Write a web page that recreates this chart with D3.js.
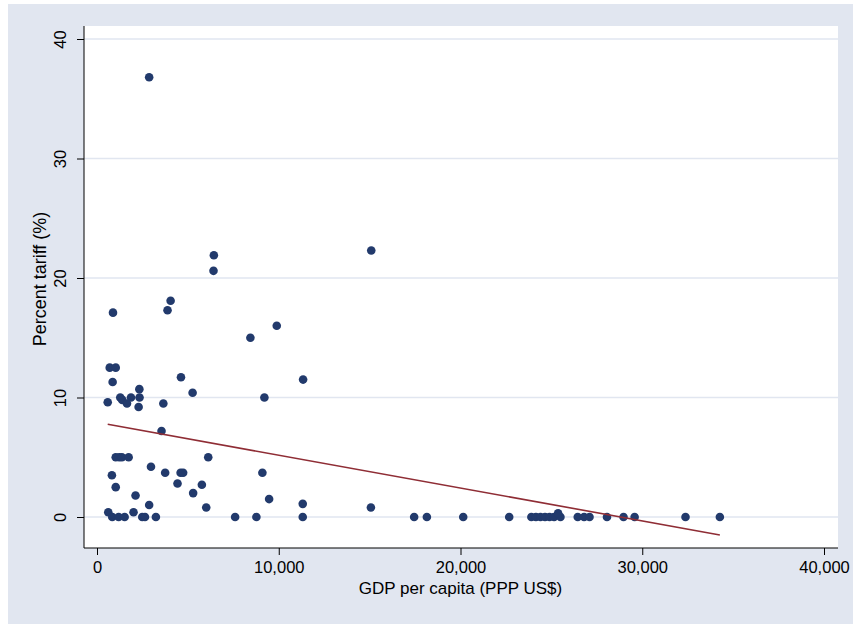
<!DOCTYPE html>
<html>
<head>
<meta charset="utf-8">
<script src="https://cdn.jsdelivr.net/npm/d3@7"></script>
<style>
  body { margin: 0; background: #ffffff; }
  text { font-family: "Liberation Sans", Arial, sans-serif; fill: #000; }
</style>
</head>
<body>
<script>

// GDP per capita (PPP US$) of each country
let gdpPerCapita = [
    2870, 15090, 6430, 6410, 4050, 3880, 880, 9890, 8440, 700,
    1030, 4620, 11340, 860, 2330, 5260, 2340, 1280, 1390, 1870,
    9210, 1650, 590, 2290, 3650, 3550, 1030, 1220, 1370, 1740,
    6120, 2970, 3750, 4600, 4740, 9100, 820, 4430, 5770, 1030,
    5290, 2120, 9470, 6010, 2870, 11320, 15070, 2010, 620,
    840, 1190, 1520, 2490, 2640, 3240, 7600, 8770, 11320, 17450,
    18150, 20150, 22680, 23900, 24150, 24400, 24650, 24900, 25150, 25500,
    26450, 26800, 27100, 28060, 28970, 29580, 32380, 34270, 25370
]
// percent tariff, same order
let tariffPct = [
    36.8, 22.3, 21.9, 20.6, 18.1, 17.3, 17.1, 16.0, 15.0, 12.5,
    12.5, 11.7, 11.5, 11.3, 10.7, 10.4, 10.0, 10.0, 9.8, 10.0,
    10.0, 9.5, 9.6, 9.2, 9.5, 7.2, 5.0, 5.0, 5.0, 5.0,
    5.0, 4.2, 3.7, 3.7, 3.7, 3.7, 3.5, 2.8, 2.7, 2.5,
    2.0, 1.8, 1.5, 0.8, 1.0, 1.1, 0.8, 0.4, 0.4,
    0, 0, 0, 0, 0, 0, 0, 0, 0, 0,
    0, 0, 0, 0, 0, 0, 0, 0, 0, 0,
    0, 0, 0, 0, 0, 0, 0, 0, 0.3
]

// fitted line end points
let fitGdp = [590, 34270]
let fitTariff = [7.76, -1.5]

let xTicks = [0, 10000, 20000, 30000, 40000]
let yTicks = [0, 10, 20, 30, 40]

let width = 853
let height = 624

let values = gdpPerCapita.map((g, i) => [g, tariffPct[i]])

let svg = d3.select("body")
            .append("svg")
            .attr("width", width)
            .attr("height", height)

// graph region
svg.append("rect")
    .attr("x", 8)
    .attr("y", 4)
    .attr("width", width - 8)
    .attr("height", height - 4)
    .attr("fill", "#e1e6f0")

// plot region
let plot = { left: 84, top: 26, right: 838, bottom: 548 }

svg.append("rect")
    .attr("x", plot.left)
    .attr("y", plot.top)
    .attr("width", plot.right - plot.left)
    .attr("height", plot.bottom - plot.top)
    .attr("fill", "#ffffff")

let xScale = d3.scaleLinear()
                .domain([0, 40000])
                .range([97, 824])

let yScale = d3.scaleLinear()
                .domain([0, 40])
                .range([517, 39])

// grid lines
svg.append("g")
    .selectAll("line")
    .data(yTicks)
    .enter()
    .append("line")
    .attr("x1", plot.left)
    .attr("x2", plot.right)
    .attr("y1", (d) => yScale(d))
    .attr("y2", (d) => yScale(d))
    .attr("stroke", "#e1e6f0")
    .attr("stroke-width", 1.6)

// axes
let xAxis = d3.axisBottom(xScale)
                .tickValues(xTicks)
                .tickSize(7)
                .tickPadding(6)
                .tickFormat(d3.format(","))
                .tickSizeOuter(0)

let yAxis = d3.axisLeft(yScale)
                .tickValues(yTicks)
                .tickSize(7)
                .tickPadding(8)
                .tickSizeOuter(0)

let gx = svg.append("g")
    .attr("id", "x-axis")
    .attr("transform", "translate(0," + plot.bottom + ")")
    .call(xAxis)

gx.select(".domain").remove()
gx.append("line")
    .attr("x1", plot.left)
    .attr("x2", plot.right)
    .attr("stroke", "#000")
gx.selectAll("text")
    .style("font-size", "16.5px")
    .style("font-family", "Liberation Sans, Arial, sans-serif")
    .attr("fill", "#000")

let gy = svg.append("g")
    .attr("id", "y-axis")
    .attr("transform", "translate(" + plot.left + ",0)")
    .call(yAxis)

gy.select(".domain").remove()
gy.append("line")
    .attr("y1", plot.top)
    .attr("y2", plot.bottom)
    .attr("stroke", "#000")
gy.selectAll(".tick text")
    .style("font-size", "16.5px")
    .style("font-family", "Liberation Sans, Arial, sans-serif")
    .attr("fill", "#000")
    .attr("x", null)
    .attr("dy", null)
    .attr("text-anchor", "middle")
    .attr("transform", "translate(-18,0) rotate(-90)")

// scatter points
svg.append("g")
    .selectAll("circle")
    .data(values)
    .enter()
    .append("circle")
    .attr("cx", (item) => xScale(item[0]))
    .attr("cy", (item) => yScale(item[1]))
    .attr("r", 4.3)
    .attr("fill", "#223a6c")

// fitted values
let line = d3.line()
            .x((d) => xScale(d[0]))
            .y((d) => yScale(d[1]))

svg.append("path")
    .datum(fitGdp.map((g, i) => [g, fitTariff[i]]))
    .attr("d", line)
    .attr("fill", "none")
    .attr("stroke", "#8f2d35")
    .attr("stroke-width", 1.6)

// axis titles
svg.append("text")
    .attr("x", (xScale(0) + xScale(40000)) / 2)
    .attr("y", 594)
    .attr("text-anchor", "middle")
    .style("font-size", "17px")
    .text("GDP per capita (PPP US$)")

svg.append("text")
    .attr("transform", "translate(46,279) rotate(-90)")
    .attr("text-anchor", "middle")
    .style("font-size", "18px")
    .text("Percent tariff (%)")

</script>
</body>
</html>
